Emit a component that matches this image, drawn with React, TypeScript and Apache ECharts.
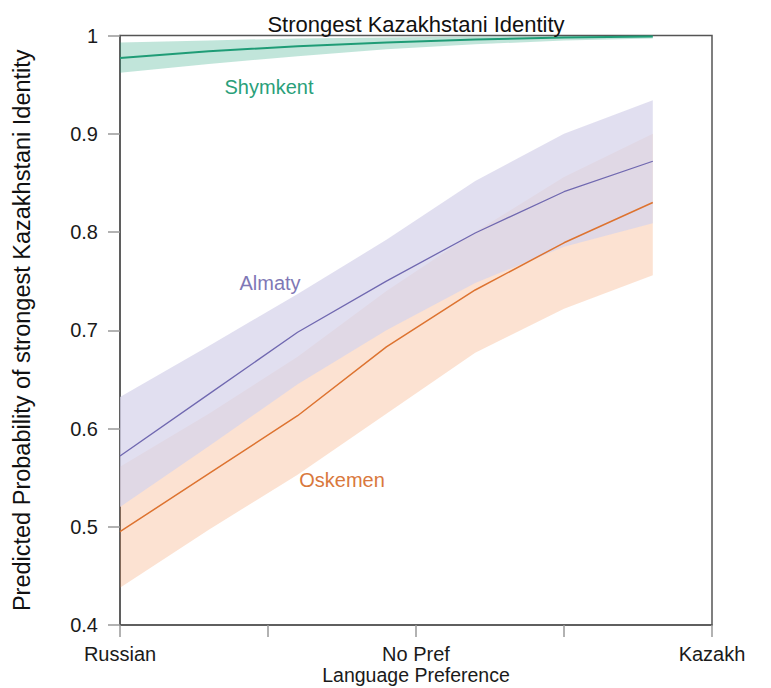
import React, { useEffect, useRef } from "react";
import * as echarts from "echarts";

// Language preference scale: 1 = Russian, 3 = No Pref, 5 = Kazakh
const langPref = [1, 1.6, 2.2, 2.8, 3.4, 4.0, 4.6];
const tickLabels: Record<number, string> = { 1: "Russian", 3: "No Pref", 5: "Kazakh" };

// Predicted probabilities with confidence bands per city
const shymkent = [0.977, 0.984, 0.989, 0.993, 0.996, 0.998, 0.999];
const shymkentHi = [0.993, 0.995, 0.997, 0.998, 0.999, 0.9995, 1.0];
const shymkentLo = [0.962, 0.971, 0.979, 0.986, 0.991, 0.995, 0.997];

const almaty = [0.572, 0.635, 0.698, 0.75, 0.799, 0.841, 0.872];
const almatyHi = [0.632, 0.684, 0.737, 0.792, 0.852, 0.9, 0.934];
const almatyLo = [0.52, 0.582, 0.645, 0.7, 0.748, 0.785, 0.809];

const oskemen = [0.495, 0.554, 0.613, 0.683, 0.741, 0.789, 0.83];
const oskemenHi = [0.561, 0.615, 0.673, 0.74, 0.8, 0.856, 0.9];
const oskemenLo = [0.438, 0.497, 0.553, 0.615, 0.677, 0.722, 0.756];

const FONT = "Liberation Sans, Arial, Helvetica, sans-serif";

function bandSeries(name: string, lo: number[], hi: number[], fill: string, z: number) {
  return {
    type: "custom",
    name,
    data: langPref.map((x, i) => [x, lo[i], hi[i]]),
    encode: { x: 0, y: [1, 2] },
    silent: true,
    z,
    renderItem: (params: any, api: any) => {
      if (params.dataIndex !== 0) return null;
      const top = langPref.map((x, i) => api.coord([x, hi[i]]));
      const bottom = langPref.map((x, i) => api.coord([x, lo[i]])).reverse();
      return {
        type: "polygon",
        shape: { points: top.concat(bottom) },
        style: { fill },
      };
    },
  };
}

function lineSeries(name: string, values: number[], color: string, width: number) {
  return {
    type: "line",
    name,
    data: langPref.map((x, i) => [x, values[i]]),
    showSymbol: false,
    symbol: "none",
    lineStyle: { color, width },
    z: 5,
  };
}

function label(text: string, x: number, y: number, fill: string, size = 20) {
  return {
    type: "text",
    x,
    y,
    z: 10,
    style: {
      text,
      fontFamily: FONT,
      fontSize: size,
      fill,
      textAlign: "center",
      textVerticalAlign: "middle",
    },
  };
}

export default function App() {
  const ref = useRef<HTMLDivElement>(null);

  useEffect(() => {
    if (!ref.current) return;
    const chart = echarts.init(ref.current, null, { renderer: "svg" });
    chart.setOption({
      animation: false,
      backgroundColor: "#ffffff",
      grid: {
        left: 120,
        right: 59,
        top: 35.5,
        bottom: 63,
        outerBoundsMode: "none",
        containLabel: false,
        show: true,
        borderColor: "#555",
        borderWidth: 1.5,
        backgroundColor: "transparent",
      },
      xAxis: {
        type: "value",
        min: 1,
        max: 5,
        interval: 1,
        axisLine: { show: true, lineStyle: { color: "#555", width: 1.5 } },
        axisTick: { show: true, length: 12, lineStyle: { color: "#999", width: 1.5 } },
        axisLabel: {
          margin: 19,
          fontFamily: FONT,
          fontSize: 20,
          color: "#1a1a1a",
          formatter: (v: number) => tickLabels[v] ?? "",
        },
        splitLine: { show: false },
      },
      yAxis: {
        type: "value",
        min: 0.4,
        max: 1,
        interval: 0.1,
        name: "Predicted Probability of strongest Kazakhstani Identity",
        nameLocation: "middle",
        nameGap: 86,
        nameTextStyle: { fontFamily: FONT, fontSize: 23.5, color: "#111" },
        axisLine: { show: true, lineStyle: { color: "#555", width: 1.5 } },
        axisTick: { show: true, length: 12, lineStyle: { color: "#999", width: 1.5 } },
        axisLabel: {
          margin: 22,
          fontFamily: FONT,
          fontSize: 20,
          color: "#1a1a1a",
          formatter: (v: number) => (Math.abs(v - 1) < 1e-9 ? "1" : v.toFixed(1)),
        },
        splitLine: { show: false },
      },
      graphic: [
        label("Strongest Kazakhstani Identity", 416, 24, "#111", 22),
        label("Language Preference", 416, 675, "#1a1a1a", 19.5),
        label("Shymkent", 269, 87, "#2a9f7a"),
        label("Almaty", 270, 283, "#7f78b6"),
        label("Oskemen", 342, 480, "#d9783c"),
      ],
      series: [
        bandSeries("Shymkent CI", shymkentLo, shymkentHi, "rgba(27,158,119,0.27)", 1),
        bandSeries("Oskemen CI", oskemenLo, oskemenHi, "rgba(244,135,65,0.24)", 1),
        bandSeries("Almaty CI", almatyLo, almatyHi, "rgba(215,212,235,0.75)", 2),
        lineSeries("Shymkent", shymkent, "#1f9c76", 2),
        lineSeries("Almaty", almaty, "#7068b0", 1.3),
        lineSeries("Oskemen", oskemen, "#dd7330", 1.5),
      ],
    });
    return () => chart.dispose();
  }, []);

  return (
    <div
      ref={ref}
      style={{ position: "fixed", left: 0, top: 0, width: 771, height: 688 }}
    />
  );
}
